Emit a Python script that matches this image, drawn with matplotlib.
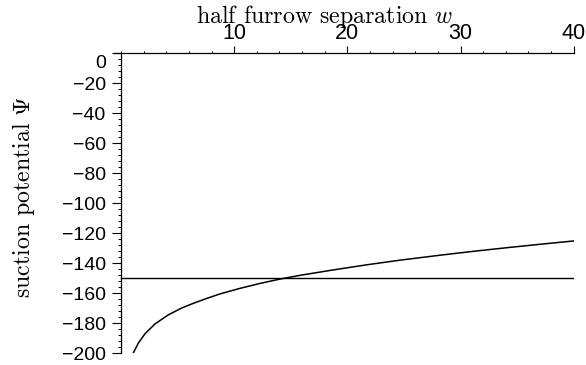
import matplotlib
matplotlib.use("Agg")
import matplotlib.pyplot as plt
from matplotlib.ticker import MultipleLocator, FixedLocator
from matplotlib.transforms import ScaledTranslation

# Suction potential versus half furrow separation
w = [1.09, 1.53, 2.12, 3.01, 4.18, 5.37, 6.25, 7.43, 8.75, 10.52, 12.29,
     14.06, 15.83, 18.77, 21.72, 24.67, 28.2, 31.15, 34.1, 37.05, 40.0]
psi = [-200.0, -193.5, -187.2, -180.6, -174.6, -170.0, -167.3, -164.0, -160.6,
       -156.9, -153.6, -150.7, -148.2, -144.6, -141.2, -138.1, -134.8, -132.2,
       -129.8, -127.5, -125.3]

# Critical suction level
psi_crit = -150
w_range = [0, 40]

x_ticks = [10, 20, 30, 40]
y_ticks = [0, -20, -40, -60, -80, -100, -120, -140, -160, -180, -200]

plt.rcParams["mathtext.fontset"] = "cm"

fig = plt.figure(figsize=(5.86, 3.65), dpi=100)
ax = fig.add_axes([113.6 / 586, 1 - 353 / 365, (573.7 - 113.6) / 586, 300 / 365])

ax.plot(w, psi, color="black", lw=1.1)
ax.plot(w_range, [psi_crit, psi_crit], color="black", lw=1.0)

ax.set_xlim(-0.65, 40)
ax.set_ylim(-200, 0)

for side in ("bottom", "right"):
    ax.spines[side].set_visible(False)
ax.spines["left"].set_position(("data", 0))
for sp in ("left", "top"):
    ax.spines[sp].set_linewidth(0.9)

ax.xaxis.set_ticks_position("top")
ax.xaxis.set_label_position("top")
ax.xaxis.set_major_locator(FixedLocator(x_ticks))
ax.xaxis.set_minor_locator(MultipleLocator(2))
ax.yaxis.set_major_locator(FixedLocator(y_ticks))
ax.yaxis.set_minor_locator(MultipleLocator(4))

ax.set_xticklabels([str(v) for v in x_ticks])
ax.set_yticklabels(["0" if v == 0 else "\u2212" + str(-v) for v in y_ticks])

ax.tick_params(axis="x", which="major", direction="out", length=5.2, width=0.8,
               pad=1, labelsize=15.5)
ax.tick_params(axis="x", which="minor", direction="out", length=1.8, width=0.7)
ax.tick_params(axis="y", which="major", direction="out", length=6.5, width=0.8,
               pad=4.5, labelsize=14)
ax.tick_params(axis="y", which="minor", direction="out", length=2, width=0.7)

for lab in ax.get_xticklabels() + ax.get_yticklabels():
    lab.set_family(["Liberation Sans", "DejaVu Sans"])

# the zero label sits a little below the top axis line
for v, lab in zip(y_ticks, ax.get_yticklabels()):
    if v == 0:
        lab.set_transform(lab.get_transform() +
                          ScaledTranslation(0, -9 / 100, fig.dpi_scale_trans))

fig.text(325 / 586, 1 - 16.5 / 365, r"half furrow separation $w$", ha="center",
         va="center", fontsize=17.2, family="cmr10")
fig.text(24 / 586, 1 - 196.5 / 365, r"suction potential $\Psi$", ha="center",
         va="center", rotation=90, fontsize=17.2, family="cmr10")

fig.savefig("out.png", dpi=100)
